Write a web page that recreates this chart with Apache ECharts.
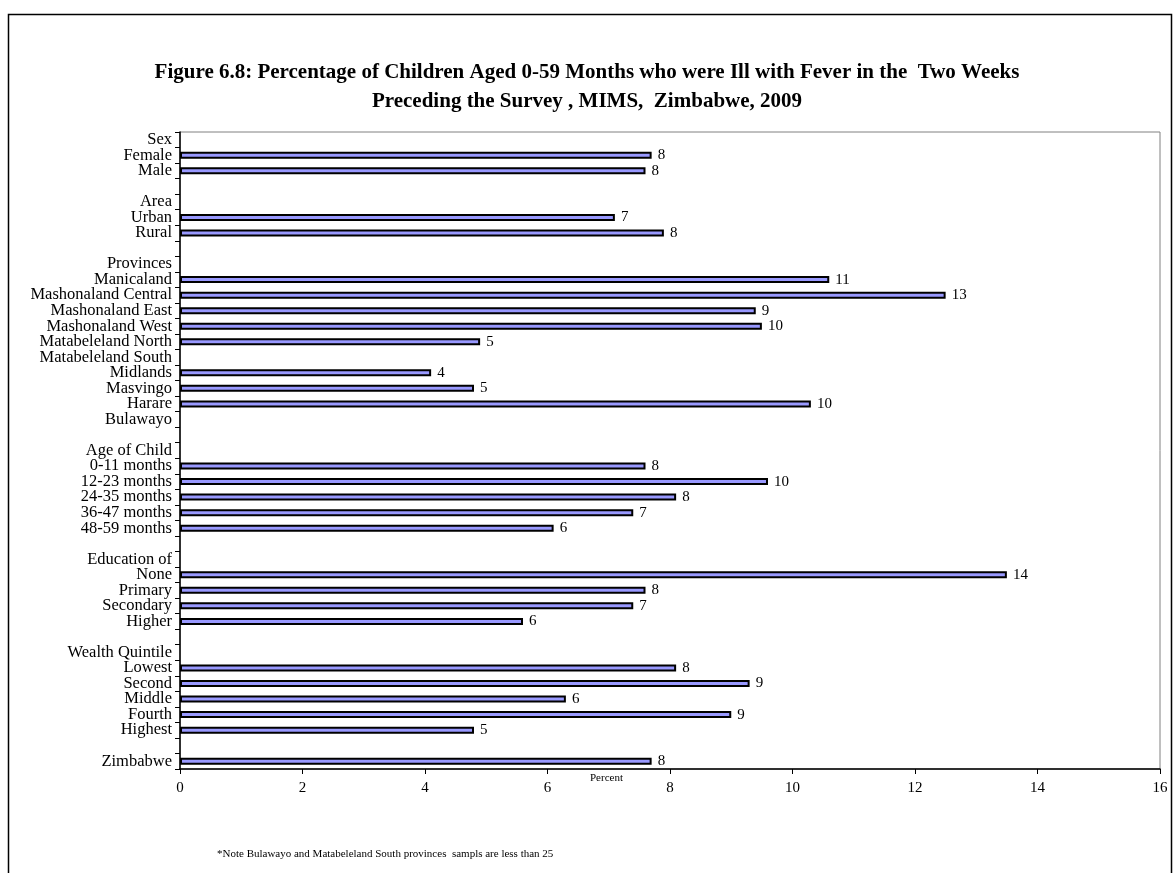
<!DOCTYPE html>
<html>
<head>
<meta charset="utf-8">
<title>Fever among children 0-59 months, MIMS Zimbabwe 2009</title>
<script src="https://cdn.jsdelivr.net/npm/echarts@6/dist/echarts.min.js"></script>
<style>
  html, body { margin: 0; padding: 0; background: #ffffff; }
  #chart { width: 1174px; height: 873px; }
</style>
</head>
<body>
<div id="chart"></div>
<script>
// Percentage of children ill with fever, by background characteristic
const sexLabels = ['Female', 'Male'];
const sexValues = [7.7, 7.6];

const areaLabels = ['Urban', 'Rural'];
const areaValues = [7.1, 7.9];

const provinceLabels = ['Manicaland', 'Mashonaland Central', 'Mashonaland East', 'Mashonaland West',
  'Matabeleland North', 'Matabeleland South', 'Midlands', 'Masvingo', 'Harare', 'Bulawayo'];
const provinceValues = [10.6, 12.5, 9.4, 9.5, 4.9, null, 4.1, 4.8, 10.3, null];

const ageLabels = ['0-11 months', '12-23 months', '24-35 months', '36-47 months', '48-59 months'];
const ageValues = [7.6, 9.6, 8.1, 7.4, 6.1];

const educationLabels = ['None', 'Primary', 'Secondary', 'Higher'];
const educationValues = [13.5, 7.6, 7.4, 5.6];

const wealthLabels = ['Lowest', 'Second', 'Middle', 'Fourth', 'Highest'];
const wealthValues = [8.1, 9.3, 6.3, 9.0, 4.8];

const totalLabels = ['Zimbabwe'];
const totalValues = [7.7];

const xTicks = [0, 2, 4, 6, 8, 10, 12, 14, 16];

// Each block: heading row (no bar), its rows, then a blank spacer row
const blocks = [
  { heading: 'Sex', labels: sexLabels, values: sexValues },
  { heading: 'Area', labels: areaLabels, values: areaValues },
  { heading: 'Provinces', labels: provinceLabels, values: provinceValues },
  { heading: 'Age of Child', labels: ageLabels, values: ageValues },
  { heading: 'Education of', labels: educationLabels, values: educationValues },
  { heading: 'Wealth Quintile', labels: wealthLabels, values: wealthValues },
  { heading: null, labels: totalLabels, values: totalValues }
];

const categories = [];
const values = [];
let spacer = ' ';
blocks.forEach((b, i) => {
  if (b.heading) { categories.push(b.heading); values.push(null); }
  b.labels.forEach((l, j) => { categories.push(l); values.push(b.values[j]); });
  if (i < blocks.length - 1) { categories.push(spacer); values.push(null); spacer += ' '; }
});

const serif = '"Liberation Serif", "Times New Roman", serif';
const chart = echarts.init(document.getElementById('chart'), null, { renderer: 'canvas' });

chart.setOption({
  backgroundColor: '#ffffff',
  animation: false,
  title: {
    text: 'Figure 6.8: Percentage of Children Aged 0-59 Months who were Ill with Fever in the  Two Weeks\nPreceding the Survey , MIMS,  Zimbabwe, 2009',
    left: 'center',
    top: 53,
    textStyle: {
      fontFamily: serif, fontWeight: 'bold', fontSize: 21, color: '#000', lineHeight: 29
    }
  },
  grid: {
    left: 180, right: 14, top: 132, bottom: 104,
    show: true, borderColor: '#808080', borderWidth: 1, backgroundColor: 'transparent'
  },
  xAxis: {
    type: 'value',
    min: xTicks[0],
    max: xTicks[xTicks.length - 1],
    interval: 2,
    splitLine: { show: false },
    axisLine: { show: true, onZero: false, lineStyle: { color: '#000', width: 1.5 } },
    axisTick: { show: true, length: 5, lineStyle: { color: '#000', width: 1 } },
    axisLabel: { fontFamily: serif, fontSize: 15, color: '#000', margin: 12 }
  },
  yAxis: {
    type: 'category',
    inverse: true,
    data: categories,
    axisLine: { show: true, lineStyle: { color: '#000', width: 1.5 } },
    axisTick: { show: true, length: 5, lineStyle: { color: '#000', width: 1 } },
    axisLabel: { fontFamily: serif, fontSize: 16.5, color: '#000', margin: 8, interval: 0 },
    splitLine: { show: false }
  },
  series: [{
    type: 'bar',
    data: values,
    barWidth: 7,
    itemStyle: { color: '#9999ff', borderColor: '#000', borderWidth: 2 },
    label: {
      show: true,
      position: 'right',
      distance: 6,
      fontFamily: serif,
      fontSize: 15,
      color: '#000',
      formatter: p => (p.value == null ? '' : String(Math.round(p.value)))
    }
  }],
  graphic: [
    {
      type: 'rect',
      shape: { x: 8.5, y: 14.5, width: 1163, height: 900 },
      style: { fill: 'none', stroke: '#000', lineWidth: 1.5 },
      silent: true
    },
    {
      type: 'text',
      left: 590, top: 773,
      style: { text: 'Percent', font: '11px ' + serif, fill: '#000' }
    },
    {
      type: 'text',
      left: 217, top: 849,
      style: { text: '*Note Bulawayo and Matabeleland South provinces  sampls are less than 25', font: '11px ' + serif, fill: '#000' }
    }
  ]
});
</script>
</body>
</html>
